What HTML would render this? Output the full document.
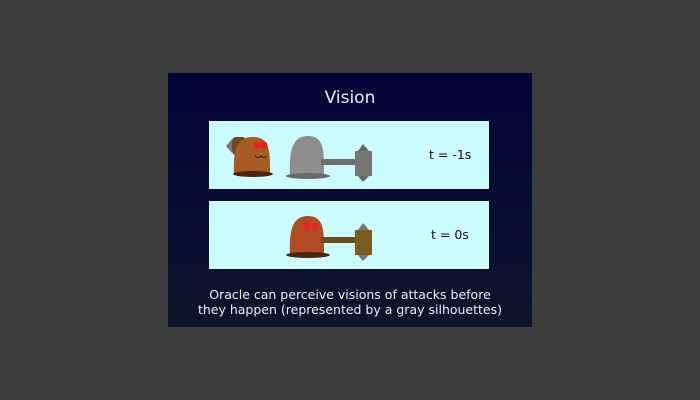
<!DOCTYPE html>
<html><head><meta charset="utf-8"><style>
html,body{margin:0;padding:0;width:700px;height:400px;background:#3c3c3c;overflow:hidden;font-family:"DejaVu Sans","Liberation Sans",sans-serif}
#card{position:absolute;left:168px;top:73px;width:364px;height:254px;background:linear-gradient(#000438,#081030 70%,#0c1428)}
.t{position:absolute;color:#e8f0ff;text-align:center}
.panel{position:absolute;left:41px;width:280px;height:68px;background:#ccfcff}
.lbl{position:absolute;color:#111;font-size:12.5px}
</style></head><body>
<div id="card">
 <div class="t" style="left:0;width:364px;top:15px;font-size:17px">Vision</div>
 <div class="panel" style="top:48px">
  <svg width="280" height="68" style="position:absolute;left:0;top:0">
   <g>
    <rect x="23" y="16" width="14" height="18" rx="4" fill="#6b4a1e"/>
    <polygon points="17,25 23,18 23,32" fill="#777"/>
    <path d="M25,53 C24,30 27,16 44,16 C61,16 61,30 61,53 Z" fill="#a65a24"/>
    <ellipse cx="44" cy="53" rx="20" ry="3" fill="#4a2410"/>
    <circle cx="48" cy="24" r="3.5" fill="#e82020"/><circle cx="55" cy="24" r="3.5" fill="#e82020"/>
    <path d="M46,35 q3,3 6,0 q3,3 6,0" stroke="#3a1a08" fill="none"/>
   </g>
   <g>
    <path d="M81,55 C80,30 83,15 99,15 C116,15 115,32 115,55 Z" fill="#8e8e8e"/>
    <ellipse cx="99" cy="55" rx="22" ry="3" fill="#6a6a6a"/>
    <rect x="112" y="38" width="38" height="6" fill="#6f6f6f"/>
    <rect x="146" y="30" width="17" height="25" fill="#777"/>
    <polygon points="149,30 154,23 160,30" fill="#666"/>
    <polygon points="149,55 154,61 160,55" fill="#666"/>
   </g>
  </svg>
  <div class="lbl" style="left:220px;top:26px">t = -1s</div>
 </div>
 <div class="panel" style="top:128px">
  <svg width="280" height="68" style="position:absolute;left:0;top:0">
   <g>
    <path d="M81,54 C80,30 83,15 99,15 C116,15 115,32 115,54 Z" fill="#b24a22"/>
    <ellipse cx="99" cy="54" rx="22" ry="3" fill="#4a2410"/>
    <circle cx="98" cy="25" r="3.5" fill="#ee2030"/><circle cx="106" cy="25" r="3.5" fill="#ee2030"/>
    <rect x="112" y="36" width="38" height="6" fill="#6b4a1e"/>
    <rect x="146" y="29" width="17" height="25" fill="#7a5c1c"/>
    <polygon points="149,29 154,22 160,29" fill="#777"/>
    <polygon points="149,54 154,60 160,54" fill="#777"/>
   </g>
  </svg>
  <div class="lbl" style="left:222px;top:26px">t = 0s</div>
 </div>
 <div class="t" style="left:0;width:364px;top:214px;font-size:12.5px;line-height:15px">Oracle can perceive visions of attacks before<br>they happen (represented by a gray silhouettes)</div>
</div>
</body></html>
